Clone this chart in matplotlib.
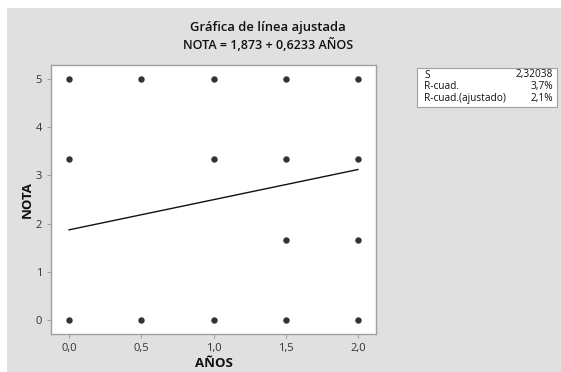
import matplotlib
matplotlib.use("Agg")
import matplotlib.pyplot as plt
from matplotlib.patches import Rectangle

plt.rcParams['font.family'] = ['Open Sans', 'DejaVu Sans']

# observed points
anos = [0.0, 0.0, 0.0, 0.5, 0.5, 1.0, 1.0, 1.0, 1.5, 1.5, 1.5, 1.5, 2.0, 2.0, 2.0, 2.0]
nota = [0.0, 3.333, 5.0, 0.0, 5.0, 0.0, 3.333, 5.0, 0.0, 1.667, 3.333, 5.0, 0.0, 1.667, 3.333, 5.0]

# fitted line
b0, b1 = 1.873, 0.6233
fit_x = [0.0, 2.0]

stat_names = ["S", "R-cuad.", "R-cuad.(ajustado)"]
stat_vals = ["2,32038", "3,7%", "2,1%"]

xticks = [0.0, 0.5, 1.0, 1.5, 2.0]
xtick_labels = ["0,0", "0,5", "1,0", "1,5", "2,0"]
yticks = [0, 1, 2, 3, 4, 5]

W, H = 561, 372
fig = plt.figure(figsize=(W / 100, H / 100), dpi=100)
fig.patch.set_facecolor("white")

# grey panel
fig.patches.append(Rectangle((7 / W, 0), 1 - 7 / W, 1 - 8 / H, transform=fig.transFigure,
                             facecolor="#e0e0e0", edgecolor="none", zorder=-10))

ax = fig.add_axes([51 / W, 1 - 334 / H, (376 - 51) / W, (334 - 65) / H])
ax.set_facecolor("white")
ax.plot(anos, nota, "o", color="#333333", markersize=3.6)
ax.plot(fit_x, [b0 + b1 * x for x in fit_x], "-", color="#111111", lw=1.0)

ax.set_xlim(-0.125, 2.125)
ax.set_ylim(-0.28, 5.28)
ax.set_xticks(xticks)
ax.set_xticklabels(xtick_labels)
ax.set_yticks(yticks)
for s in ax.spines.values():
    s.set_color("#a0a0a0")
    s.set_linewidth(1.0)
ax.tick_params(colors="#a0a0a0", labelcolor="#333333", labelsize=8, length=3, width=0.8)

ax.set_xlabel("AÑOS", fontsize=9.5, fontweight="bold", color="#111111", labelpad=2)
ax.set_ylabel("NOTA", fontsize=9.5, fontweight="bold", color="#111111", labelpad=1)

fig.text(268 / W, 1 - 28 / H, "Gráfica de línea ajustada", ha="center", va="center",
         fontsize=9.4, fontweight="semibold", color="#111111")
fig.text(268 / W, 1 - 45 / H, "NOTA = 1,873 + 0,6233 AÑOS", ha="center", va="center",
         fontsize=9.0, fontweight="semibold", color="#111111")

# stats box
bx0, bx1, by0, by1 = 417, 557, 68, 107
fig.patches.append(Rectangle((bx0 / W, 1 - by1 / H), (bx1 - bx0) / W, (by1 - by0) / H,
                             transform=fig.transFigure, facecolor="white", edgecolor="#a0a0a0", lw=0.8))
for i, (n, v) in enumerate(zip(stat_names, stat_vals)):
    y = 1 - (75 + i * 11.5) / H
    fig.text(424 / W, y, n, ha="left", va="center", fontsize=7.3, color="#111111")
    fig.text(553 / W, y, v, ha="right", va="center", fontsize=7.3, color="#111111")

fig.savefig("out.png", dpi=100)
